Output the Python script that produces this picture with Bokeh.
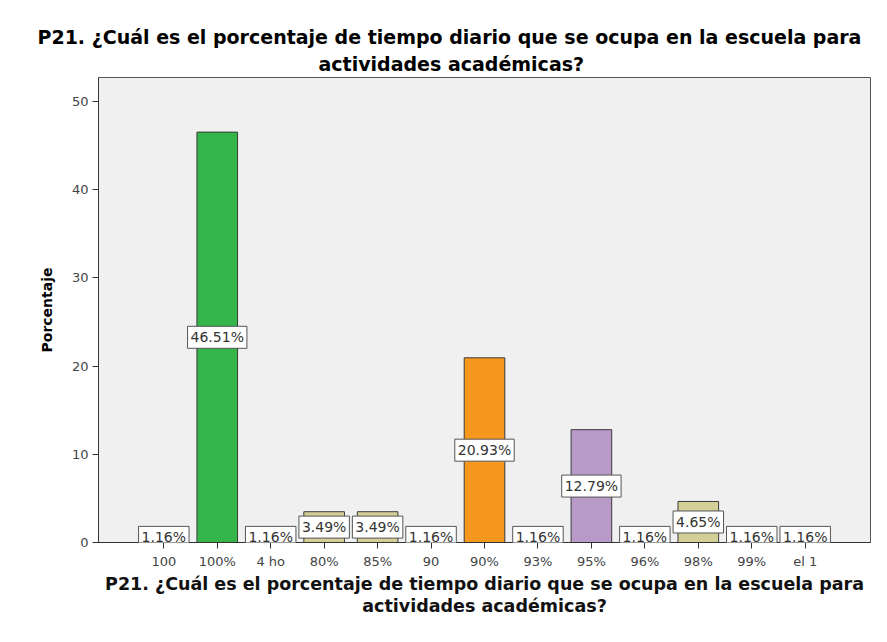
from bokeh.plotting import figure
from bokeh.models import FactorRange, Range1d, Title, Label, ColumnDataSource
from bokeh.embed import file_html
from bokeh.resources import INLINE

categories = ["100", "100%", "4 ho", "80%", "85%", "90", "90%", "93%", "95%", "96%", "98%", "99%", "el 1"]
percentages = [1.16, 46.51, 1.16, 3.49, 3.49, 1.16, 20.93, 1.16, 12.79, 1.16, 4.65, 1.16, 1.16]
bar_colors = ["#d4cf97", "#35b64b", "#d4cf97", "#d4cf97", "#d4cf97", "#d4cf97", "#f7981e",
              "#d4cf97", "#b89ac9", "#d4cf97", "#d4cf97", "#d4cf97", "#d4cf97"]
y_ticks = [0, 10, 20, 30, 40, 50]
title_lines = ["P21. ¿Cuál es el porcentaje de tiempo diario que se ocupa en la escuela para",
               "actividades académicas?"]
x_title_lines = ["P21. ¿Cuál es el porcentaje de tiempo diario que se ocupa en la escuela para",
                 "actividades académicas?"]
y_title = "Porcentaje"

FONT = "DejaVu Sans"

labels = [f"{v:.2f}%" for v in percentages]
src = ColumnDataSource(dict(cat=categories, val=percentages, color=bar_colors))

p = figure(width=871, height=626,
           x_range=FactorRange(factors=categories, range_padding=0.111, range_padding_units="percent"),
           y_range=Range1d(0, 52.7),
           output_backend="svg", toolbar_location=None,
           min_border_left=98, min_border_right=1, min_border_top=77, min_border_bottom=84,
           background_fill_color="#f0f0f0", border_fill_color="white",
           outline_line_color="#555555", outline_line_width=1)

p.vbar(x="cat", top="val", width=0.76, source=src, fill_color="color",
       line_color="#3a3a3a", line_width=1)

# value labels in white boxes, centred at half bar height
# (a factor's synthetic x position is its index + 0.5)
for i, (val, lab) in enumerate(zip(percentages, labels)):
    p.add_layout(Label(x=i + 0.5, y=val / 2, text=lab,
                       text_align="center", text_baseline="middle",
                       text_font=FONT, text_font_size="14px", text_color="#333333",
                       background_fill_color="white", border_line_color="#555555",
                       border_line_width=1, padding=3))

p.xgrid.grid_line_color = None
p.ygrid.grid_line_color = None

for ax in (p.xaxis[0], p.yaxis[0]):
    ax.axis_line_color = "#333333"
    ax.major_tick_line_color = "#333333"
    ax.minor_tick_line_color = None
    ax.major_tick_in = 0
    ax.major_tick_out = 6
    ax.major_label_text_font = FONT
    ax.major_label_text_font_size = "13px"
    ax.major_label_text_color = "#444444"

p.xaxis.major_label_standoff = 5
p.yaxis.major_label_standoff = 4
p.yaxis.ticker = y_ticks
p.yaxis.axis_label = y_title
p.yaxis.axis_label_text_font = FONT
p.yaxis.axis_label_text_font_size = "14px"
p.yaxis.axis_label_text_font_style = "bold"
p.yaxis.axis_label_text_color = "black"
p.yaxis.axis_label_standoff = 14

# top title: two lines, closest line added first
p.add_layout(Title(text=title_lines[1], align="left", offset=220, text_font=FONT,
                   text_font_size="19px", text_font_style="bold", text_color="black",
                   standoff=6), "above")
p.add_layout(Title(text=title_lines[0], align="left", offset=-61, text_font=FONT,
                   text_font_size="19px", text_font_style="bold", text_color="black",
                   standoff=0), "above")

# x axis title: two lines, centred on plot area
for line in x_title_lines:
    p.add_layout(Title(text=line, align="center", text_font=FONT,
                       text_font_size="17.5px", text_font_style="bold", text_color="#111111",
                       standoff=0), "below")

open("out.html", "w").write(file_html(p, INLINE))
